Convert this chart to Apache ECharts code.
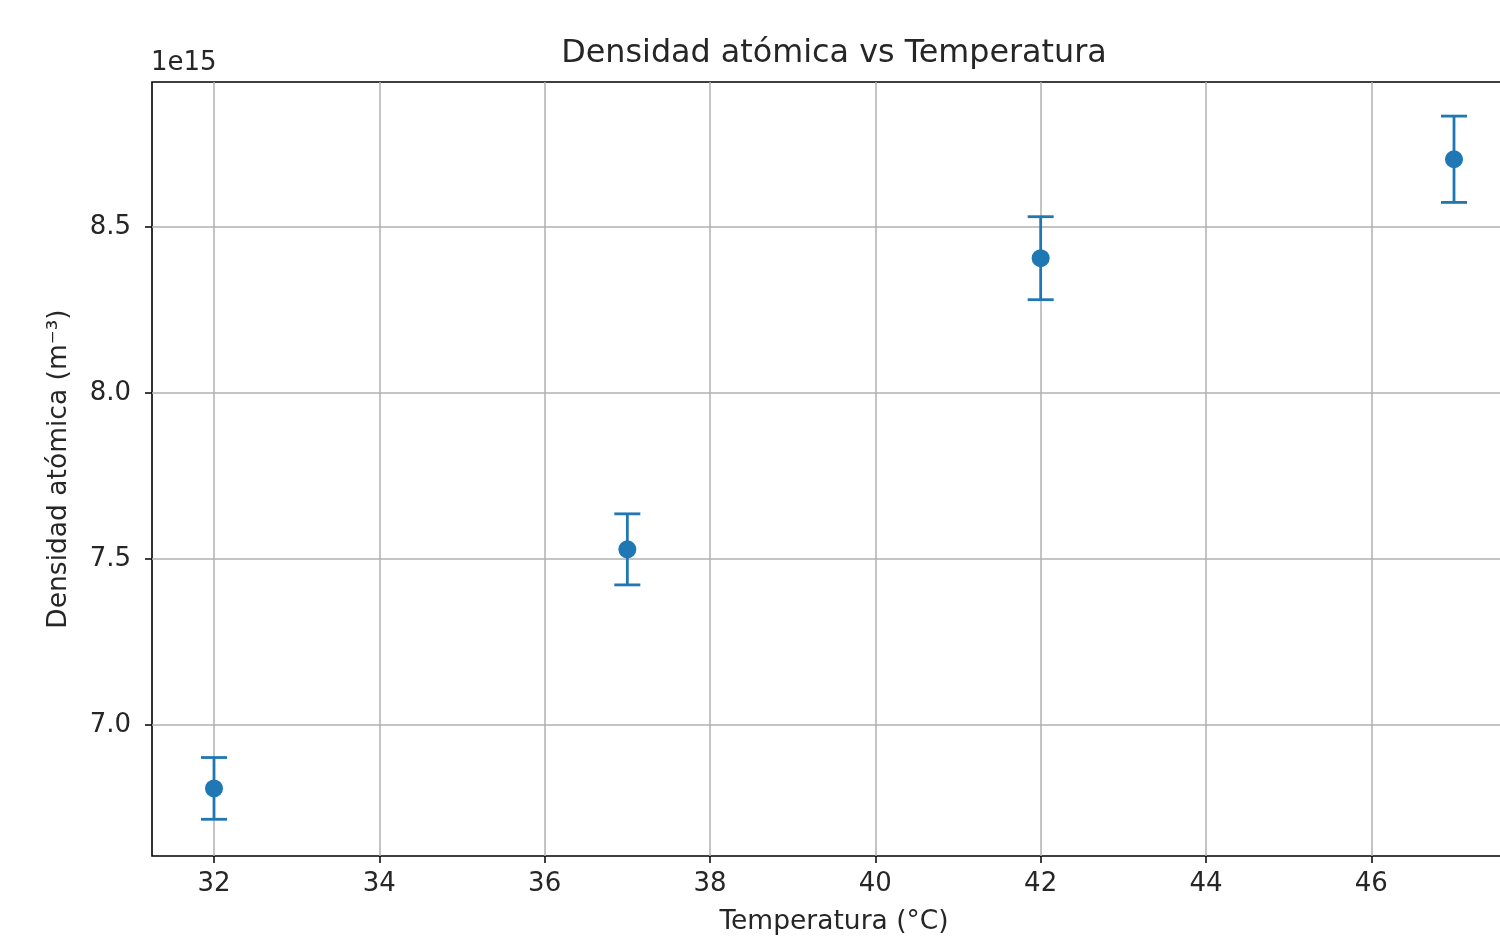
<!DOCTYPE html>
<html>
<head>
<meta charset="utf-8">
<title>Densidad atómica vs Temperatura</title>
<script src="https://cdn.jsdelivr.net/npm/echarts@6/dist/echarts.min.js"></script>
<style>
  html, body { margin: 0; padding: 0; background: #fff; }
  #chart { width: 1500px; height: 937px; }
</style>
</head>
<body>
<div id="chart"></div>
<script>
// datos (densidad en unidades de 1e15 m^-3)
const temperaturas = [32, 37, 42, 47];
const densidad = [6.809, 7.529, 8.406, 8.704];
const errorDensidad = [0.093, 0.107, 0.125, 0.130];
const xTicks = [32, 34, 36, 38, 40, 42, 44, 46];
const yTicks = [7.0, 7.5, 8.0, 8.5];
const exponente = '1e15';

const azul = '#1f77b4';
const texto = '#262626';
const fuente = 'DejaVu Sans';

const chart = echarts.init(document.getElementById('chart'));

const barras = temperaturas.map((t, i) => [t, densidad[i] - errorDensidad[i], densidad[i] + errorDensidad[i]]);
const puntos = temperaturas.map((t, i) => [t, densidad[i]]);

chart.setOption({
  animation: false,
  textStyle: { fontFamily: fuente, color: texto },
  title: {
    text: 'Densidad atómica vs Temperatura',
    left: 834,
    textAlign: 'center',
    top: 38,
    padding: 0,
    textStyle: { fontFamily: fuente, fontSize: 31.8, fontWeight: 'normal', color: texto }
  },
  graphic: [{
    type: 'text',
    left: 151,
    top: 50,
    style: { text: exponente, font: '26px "DejaVu Sans"', fill: texto }
  }],
  grid: {
    left: 152, top: 82, right: -16, bottom: 81,
    outerBoundsMode: 'none',
    containLabel: false,
    show: true, borderColor: '#000', borderWidth: 1.6, backgroundColor: '#fff'
  },
  xAxis: {
    type: 'value',
    min: 31.25,
    max: 47.75,
    name: 'Temperatura (°C)',
    nameLocation: 'middle',
    nameGap: 53,
    nameTextStyle: { fontFamily: fuente, fontSize: 26.5, color: texto },
    axisLine: { show: false },
    axisTick: { show: true, customValues: xTicks, length: 7, lineStyle: { color: '#000', width: 1.5 } },
    axisLabel: { customValues: xTicks, margin: 15, fontFamily: fuente, fontSize: 26, color: texto },
    splitLine: { show: true, lineStyle: { color: '#b0b0b0', width: 1.5 } }
  },
  yAxis: {
    type: 'value',
    min: 6.6054,
    max: 8.9367,
    name: 'Densidad atómica (m⁻³)',
    nameLocation: 'middle',
    nameGap: 79,
    nameTextStyle: { fontFamily: fuente, fontSize: 26.5, color: texto },
    axisLine: { show: false },
    axisTick: { show: true, customValues: yTicks, length: 7, lineStyle: { color: '#000', width: 1.5 } },
    axisLabel: {
      customValues: yTicks, margin: 21, fontFamily: fuente, fontSize: 26, color: texto,
      formatter: v => v.toFixed(1)
    },
    splitLine: { show: true, lineStyle: { color: '#b0b0b0', width: 1.5 } }
  },
  series: [
    {
      type: 'custom',
      data: barras,
      z: 3,
      renderItem: (params, api) => {
        const x = api.value(0);
        const abajo = api.coord([x, api.value(1)]);
        const arriba = api.coord([x, api.value(2)]);
        const cap = 13;
        const estilo = { stroke: azul, lineWidth: 2.8 };
        return {
          type: 'group',
          children: [
            { type: 'line', shape: { x1: abajo[0], y1: abajo[1], x2: arriba[0], y2: arriba[1] }, style: estilo },
            { type: 'line', shape: { x1: abajo[0] - cap, y1: abajo[1], x2: abajo[0] + cap, y2: abajo[1] }, style: estilo },
            { type: 'line', shape: { x1: arriba[0] - cap, y1: arriba[1], x2: arriba[0] + cap, y2: arriba[1] }, style: estilo }
          ]
        };
      }
    },
    {
      type: 'scatter',
      data: puntos,
      z: 4,
      symbol: 'circle',
      symbolSize: 18,
      itemStyle: { color: azul, opacity: 1 }
    }
  ]
});
</script>
</body>
</html>
